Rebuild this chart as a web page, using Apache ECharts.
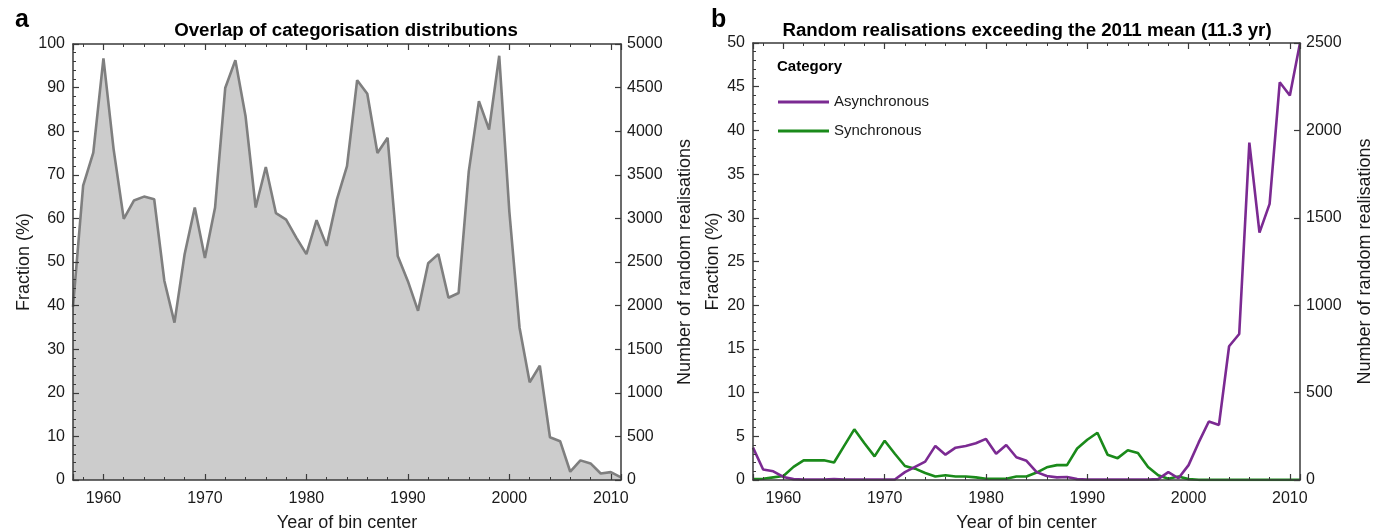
<!DOCTYPE html>
<html><head><meta charset="utf-8">
<script src="https://cdn.jsdelivr.net/npm/echarts@6/dist/echarts.min.js"></script>
<style>html,body{margin:0;padding:0;background:#fff}#c{width:1375px;height:530px}</style>
</head><body><div id="c"></div>
<script>
const years = [1957,1958,1959,1960,1961,1962,1963,1964,1965,1966,
  1967,1968,1969,1970,1971,1972,1973,1974,1975,1976,
  1977,1978,1979,1980,1981,1982,1983,1984,1985,1986,
  1987,1988,1989,1990,1991,1992,1993,1994,1995,1996,
  1997,1998,1999,2000,2001,2002,2003,2004,2005,2006,
  2007,2008,2009,2010,2011];
const overlapFraction = [39.7,67.5,75.1,96.7,75.9,59.9,64.1,65.0,64.4,45.7,
  36.1,51.8,62.5,50.9,62.5,89.9,96.3,83.5,62.5,71.8,
  61.2,59.7,55.6,51.8,59.6,53.7,64.3,72.0,91.7,88.6,
  75.0,78.5,51.4,45.6,38.8,49.7,51.8,41.8,42.9,70.8,
  86.9,80.4,97.3,61.5,35.0,22.4,26.2,9.8,8.9,1.9,
  4.5,3.8,1.5,1.8,0.6];
const asyncFraction = [3.7,1.2,1.0,0.35,0.1,0.05,0.05,0.05,0.1,0.05,
  0.05,0.05,0.05,0.05,0.05,0.9,1.5,2.1,3.9,2.9,
  3.7,3.9,4.2,4.7,3.0,4.0,2.6,2.2,0.9,0.45,
  0.3,0.35,0.1,0.05,0.05,0.05,0.05,0.05,0.05,0.05,
  0.1,0.9,0.2,1.7,4.3,6.7,6.3,15.3,16.7,38.6,
  28.3,31.6,45.5,44.0,50.0];
const syncFraction = [0.1,0.15,0.3,0.45,1.5,2.25,2.25,2.25,2.0,3.9,
  5.8,4.2,2.7,4.5,3.0,1.6,1.3,0.8,0.4,0.55,
  0.4,0.4,0.3,0.15,0.15,0.15,0.4,0.4,0.85,1.45,
  1.7,1.7,3.6,4.6,5.4,2.9,2.5,3.4,3.1,1.5,
  0.55,0.15,0.4,0.1,0.02,0.02,0.02,0.02,0.02,0.02,
  0.02,0.02,0.02,0.02,0.02];
const titleA = 'Overlap of categorisation distributions';
const titleB = 'Random realisations exceeding the 2011 mean (11.3 yr)';
const seriesNames = ['Asynchronous', 'Synchronous'];

const FONT = '"Liberation Sans", Arial, sans-serif';
const AX = '#3a3a3a';
const TXT = '#1a1a1a';

function xAx(grid, pos) {
  const bottom = pos === 'bottom';
  return {
    type: 'value', gridIndex: grid, min: 1957, max: 2011, position: pos, z: 5,
    axisLine: { show: true, onZero: false, lineStyle: { color: AX, width: 1.5 } },
    axisTick: { show: true, inside: true, length: 6, lineStyle: { color: AX, width: 1.2 } },
    minorTick: { show: true, splitNumber: 5, length: 3, lineStyle: { color: AX, width: 1 } },
    splitLine: { show: false },
    axisLabel: { show: bottom, fontSize: 16, color: TXT, fontFamily: FONT, margin: 11,
      showMinLabel: false, showMaxLabel: false,
      formatter: v => (v % 10 === 0 ? String(v) : '') },
    name: bottom ? 'Year of bin center' : '', nameLocation: 'middle', nameGap: 34,
    nameTextStyle: { fontSize: 18, color: TXT, fontFamily: FONT }
  };
}
function yAx(grid, pos, max, interval, minor, name, gap) {
  return {
    type: 'value', gridIndex: grid, min: 0, max: max, interval: interval, position: pos, z: 5,
    axisLine: { show: true, onZero: false, lineStyle: { color: AX, width: 1.5 } },
    axisTick: { show: true, inside: true, length: 6, lineStyle: { color: AX, width: 1.2 } },
    minorTick: { show: minor, splitNumber: 5, length: 3, lineStyle: { color: AX, width: 1 } },
    splitLine: { show: false },
    axisLabel: { fontSize: 16, color: TXT, fontFamily: FONT, margin: pos === 'left' ? 8 : 6,
      formatter: v => String(v) },
    name: name, nameLocation: 'middle', nameGap: gap, nameRotate: 90,
    nameTextStyle: { fontSize: 18, color: TXT, fontFamily: FONT }
  };
}
const pairs = arr => years.map((y, i) => [y, arr[i]]);

const chart = echarts.init(document.getElementById('c'), null, { renderer: 'canvas' });
chart.setOption({
  animation: false,
  backgroundColor: '#ffffff',
  grid: [
    { left: 73, top: 44, width: 548, height: 436, outerBoundsMode: 'none', containLabel: false },
    { left: 753, top: 43, width: 547, height: 437, outerBoundsMode: 'none', containLabel: false }
  ],
  xAxis: [xAx(0, 'bottom'), xAx(0, 'top'), xAx(1, 'bottom'), xAx(1, 'top')],
  yAxis: [
    yAx(0, 'left', 100, 10, true, 'Fraction (%)', 40),
    yAx(0, 'right', 5000, 500, false, 'Number of random realisations', 55),
    yAx(1, 'left', 50, 5, true, 'Fraction (%)', 31),
    yAx(1, 'right', 2500, 500, false, 'Number of random realisations', 56)
  ],
  legend: {
    data: seriesNames, orient: 'vertical', left: 778, top: 94, padding: 0,
    icon: 'rect', itemWidth: 51, itemHeight: 3, itemGap: 13,
    textStyle: { fontSize: 15, color: TXT, fontFamily: FONT, lineHeight: 16 }
  },
  graphic: [
    { type: 'text', left: 15, top: 8, style: { text: 'a', font: 'bold 25px ' + FONT, fill: '#000' } },
    { type: 'text', left: 711, top: 8, style: { text: 'b', font: 'bold 25px ' + FONT, fill: '#000' } },
    { type: 'text', x: 346, y: 31, style: { text: titleA, font: 'bold 18.7px ' + FONT, fill: '#000', textAlign: 'center', textVerticalAlign: 'middle' } },
    { type: 'text', x: 1027, y: 31, style: { text: titleB, font: 'bold 18.7px ' + FONT, fill: '#000', textAlign: 'center', textVerticalAlign: 'middle' } },
    { type: 'text', x: 777, y: 67, style: { text: 'Category', font: 'bold 15px ' + FONT, fill: '#000', textVerticalAlign: 'middle' } }
  ],
  series: [
    { type: 'line', name: 'Overlap', xAxisIndex: 0, yAxisIndex: 0, data: pairs(overlapFraction),
      showSymbol: false, symbol: 'none', lineStyle: { color: '#7f7f7f', width: 2.6 },
      itemStyle: { color: '#7f7f7f' },
      areaStyle: { color: '#cccccc', opacity: 1 } },
    { type: 'line', name: 'Synchronous', xAxisIndex: 2, yAxisIndex: 2, data: pairs(syncFraction),
      showSymbol: false, symbol: 'none', lineStyle: { color: '#1a8a1a', width: 2.6 },
      itemStyle: { color: '#1a8a1a' } },
    { type: 'line', name: 'Asynchronous', xAxisIndex: 2, yAxisIndex: 2, data: pairs(asyncFraction),
      showSymbol: false, symbol: 'none', lineStyle: { color: '#7b2a92', width: 2.6 },
      itemStyle: { color: '#7b2a92' } }
  ]
});
</script>
</body></html>
